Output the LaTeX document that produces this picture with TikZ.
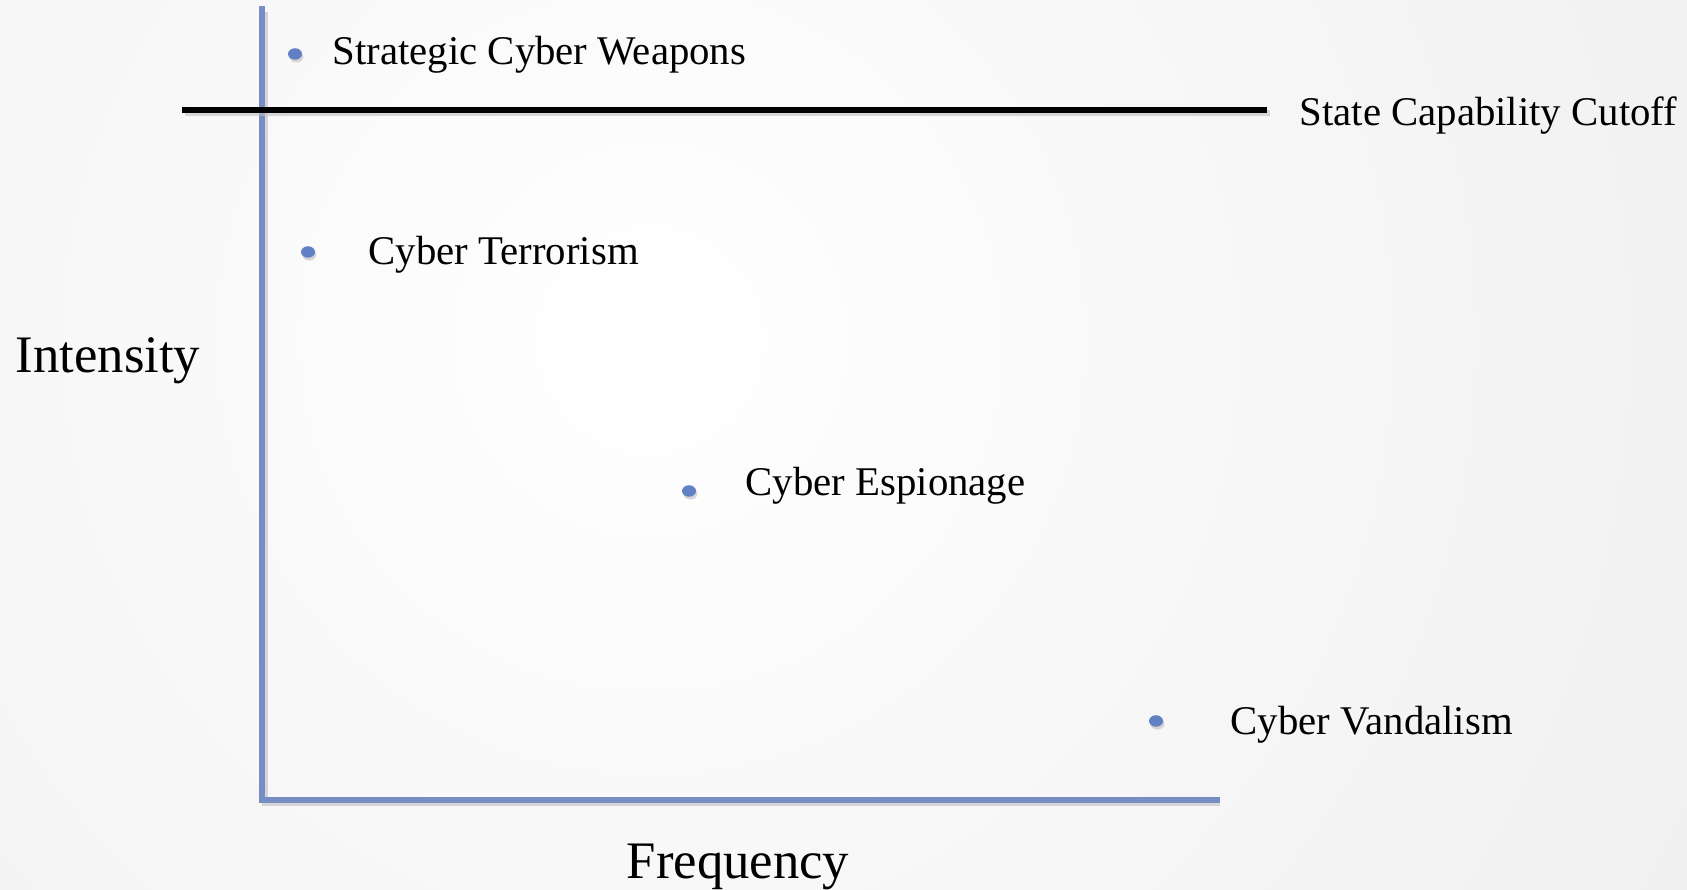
\documentclass[tikz,border=0pt]{standalone}
\usepackage{fontspec}
\setmainfont{Liberation Serif}
\usetikzlibrary{positioning,shadows,shapes.geometric}
\definecolor{axisblue}{RGB}{118,142,196}
\definecolor{dotblue}{RGB}{98,128,196}
\tikzset{
  axis/.style={draw=axisblue, line width=1.7pt, line cap=rect},
  cutoff/.style={draw=black, line width=1.8pt},
  shadowline/.style={draw=black!25, line width=1.8pt, opacity=0.6},
  dot/.style={
    ellipse, inner sep=0pt,
    minimum width=0.14cm, minimum height=0.115cm,
    fill=dotblue,
    drop shadow={shadow xshift=0.4pt, shadow yshift=-0.8pt, opacity=0.3}},
  item/.style={anchor=base west, inner sep=0pt, font=\fontsize{11.6}{14}\selectfont},
  axtitle/.style={anchor=base, inner sep=0pt, font=\fontsize{15}{18}\selectfont},
}

\begin{document}
\begin{tikzpicture}
    % background
    \useasboundingbox (0,0) rectangle (16.87,8.90);
    \shade[inner color=white, outer color=black!11] (-15.5,-16.5) rectangle (28.5,27.5);

    % axes
    \coordinate (origin) at (2.62,0.90);
    \coordinate (ytop) at (2.62,8.81);
    \coordinate (xend) at (12.17,0.90);
    \draw[shadowline] ([shift={(0.03,-0.03)}]ytop) -- ([shift={(0.03,-0.03)}]origin) -- ([shift={(0.03,-0.03)}]xend);
    \draw[axis] (ytop) -- (origin) -- (xend);

    % state capability cutoff
    \coordinate (cutL) at (1.82,7.80);
    \coordinate (cutR) at (12.67,7.80);
    \draw[shadowline] ([shift={(0.03,-0.03)}]cutL) -- ([shift={(0.03,-0.03)}]cutR);
    \draw[cutoff] (cutL) -- (cutR);
    \node[item] (cutlab) at (12.99,7.64) {State Capability Cutoff};

    % points
    \node[dot] (strat) at (2.95,8.36) {};
    \node[item] (stratlab) at (3.32,8.25) {Strategic Cyber Weapons};
    \node[dot] (terr) at (3.08,6.38) {};
    \node[item] (terrlab) at (3.68,6.25) {Cyber Terrorism};
    \node[dot] (esp) at (6.89,3.99) {};
    \node[item] (esplab) at (7.45,3.94) {Cyber Espionage};
    \node[dot] (vand) at (11.56,1.69) {};
    \node[item] (vandlab) at (12.30,1.55) {Cyber Vandalism};

    % axis titles
    \node[axtitle] (intens) at (1.08,5.17) {Intensity};
    \node[axtitle] (freq) at (7.38,0.11) {Frequency};
\end{tikzpicture}
\end{document}
